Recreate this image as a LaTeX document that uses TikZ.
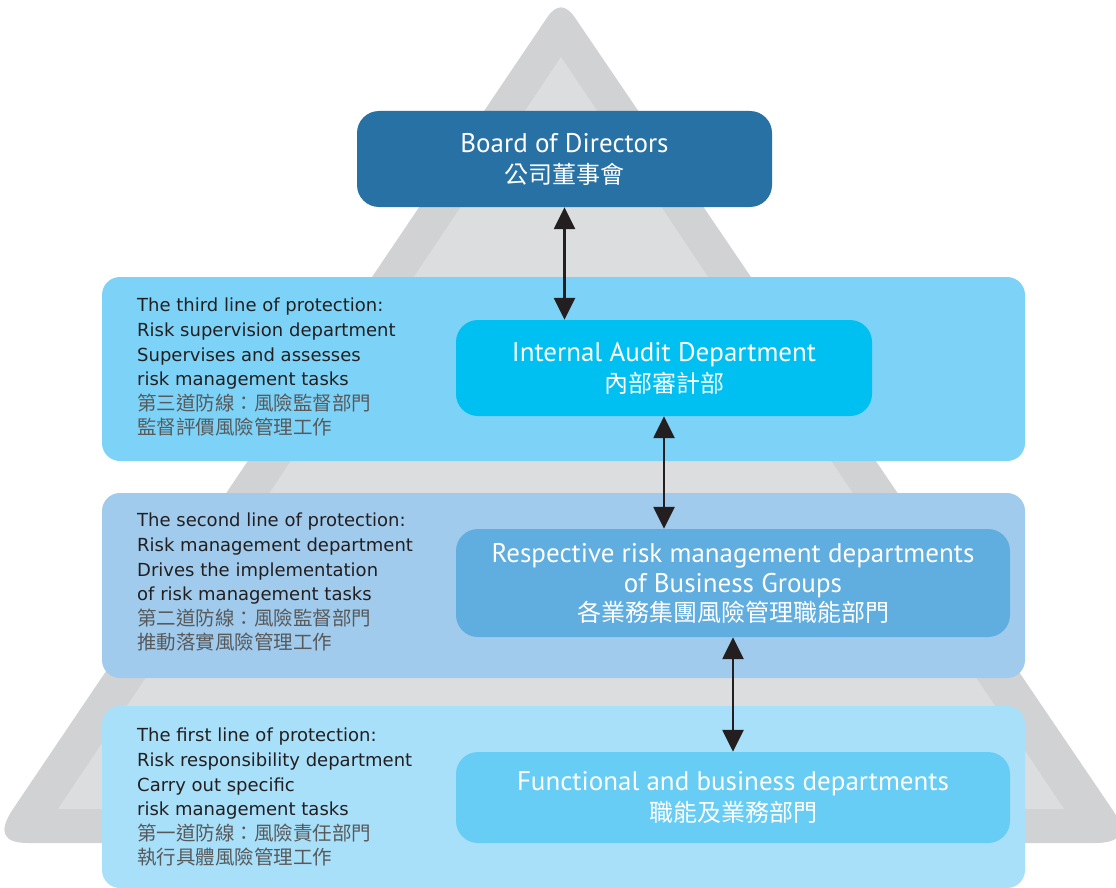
\documentclass[tikz,border=0pt]{standalone}
\usepackage{fontspec}
\usetikzlibrary{arrows.meta,positioning}
\setmainfont{DejaVu Sans}
\newfontfamily\titlefont{PT Sans}
\newfontfamily\cjk{Noto Sans CJK TC}

\definecolor{triouter}{HTML}{D1D2D4}
\definecolor{triinner}{HTML}{DCDDDF}
\definecolor{boardblue}{HTML}{2871A4}
\definecolor{bandthree}{HTML}{7DD3F7}
\definecolor{auditcyan}{HTML}{00BFF1}
\definecolor{bandtwo}{HTML}{A0CBEC}
\definecolor{riskblue}{HTML}{60ADE0}
\definecolor{bandone}{HTML}{A8E0FA}
\definecolor{funcblue}{HTML}{67CDF5}
\definecolor{inkdark}{HTML}{231F20}
\definecolor{inkgray}{HTML}{58595B}

\newcommand{\zhline}[1]{{\cjk\color{inkgray}\fontsize{19.5}{24.6}\selectfont #1}}
\newcommand{\zhtitle}[1]{{\cjk\fontsize{24}{30}\selectfont #1}}

\tikzset{
  band/.style={rounded corners=18pt, inner sep=0pt, minimum width=923pt},
  unitbox/.style={rounded corners=22pt, inner sep=0pt, align=center, text=white,
    font=\titlefont\fontsize{27}{32}\selectfont},
  lefttext/.style={anchor=north west, inner sep=0pt, align=left, text=inkdark,
    font=\fontsize{18}{24.6}\selectfont},
  link/.style={draw=inkdark, line width=2.6pt,
    {Triangle[width=21pt,length=22pt]}-{Triangle[width=21pt,length=22pt]}}
}

\begin{document}
\begin{tikzpicture}[x=1pt,y=-1pt]
\useasboundingbox (0,0) rectangle (1116,888);
\clip (0,0) rectangle (1116,888);

% pyramid in the background: thick rounded outline and lighter core
\fill[triouter] (547,17.7) .. controls (556.3,3.9) and (565.7,3.9) .. (575,17.7)
  -- (1112.6,809.9) .. controls (1127.5,832) and (1121.7,843) .. (1095,843)
  -- (28,843) .. controls (3,843) and (-2,832) .. (12.4,809.9) -- cycle;
\fill[triinner] (561,57) -- (1064,809) -- (58,809) -- cycle;

% the three lines of protection
\node[band, fill=bandthree, minimum height=184pt] (l3) at (563.5,369) {};
\node[band, fill=bandtwo,   minimum height=185pt] (l2) at (563.5,585.5) {};
\node[band, fill=bandone,   minimum height=182pt] (l1) at (563.5,797) {};

% units
\node[unitbox, fill=boardblue, minimum width=415pt, minimum height=96pt] (board) at (564.5,159)
  {Board of Directors\\[-1pt]\zhtitle{公司董事會}};
\node[unitbox, fill=auditcyan, minimum width=416pt, minimum height=96pt] (audit) at (664,368)
  {Internal Audit Department\\[-1pt]\zhtitle{內部審計部}};
\node[unitbox, fill=riskblue, minimum width=554pt, minimum height=108pt] (risk) at (733,583)
  {Respective risk management departments\\[-2pt]of Business Groups\\[-3pt]\zhtitle{各業務集團風險管理職能部門}};
\node[unitbox, fill=funcblue, minimum width=554pt, minimum height=91pt] (func) at (733,797.5)
  {Functional and business departments\\[-1pt]\zhtitle{職能及業務部門}};

% descriptions of each line
\node[lefttext] (t3) at (137,298) {The third line of protection:\\Risk supervision department\\Supervises and assesses\\risk management tasks\\
  \zhline{第三道防線：風險監督部門}\\\zhline{監督評價風險管理工作}};
\node[lefttext] (t2) at (137,513) {The second line of protection:\\Risk management department\\Drives the implementation\\of risk management tasks\\
  \zhline{第二道防線：風險監督部門}\\\zhline{推動落實風險管理工作}};
\node[lefttext] (t1) at (137,728) {The first line of protection:\\Risk responsibility department\\Carry out specific\\risk management tasks\\
  \zhline{第一道防線：風險責任部門}\\\zhline{執行具體風險管理工作}};

% reporting links
\draw[link] (board.south) -- (board.south |- audit.north);
\draw[link] (audit.south) -- (audit.south |- risk.north);
\draw[link] (risk.south) -- (risk.south |- func.north);
\end{tikzpicture}
\end{document}
